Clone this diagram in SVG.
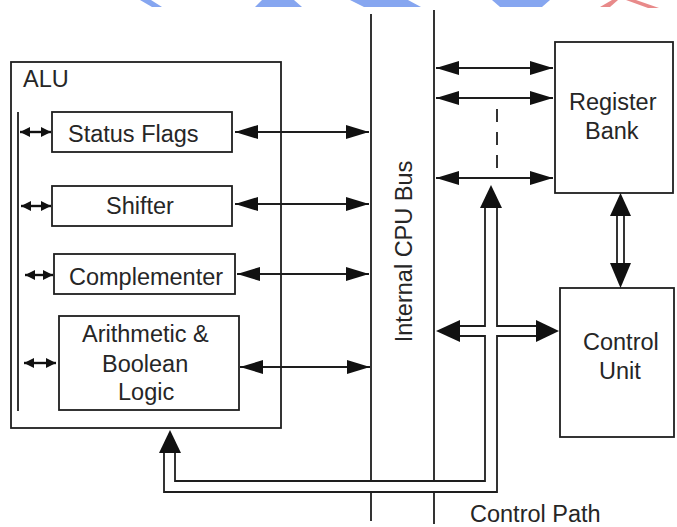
<svg xmlns="http://www.w3.org/2000/svg" width="677" height="527" viewBox="0 0 677 527">
  <style>
    .ln { fill: none; stroke: #1e1e1e; stroke-width: 1.8; }
    .sm { fill: none; stroke: #111111; stroke-width: 2.4; }
    .box { fill: #ffffff; stroke: #1e1e1e; stroke-width: 1.8; }
    .hd { fill: #111111; stroke: none; }
    .tx { font-family: "Liberation Sans", Arial, sans-serif; font-size: 23.5px; fill: #262626; }
  </style>
  <defs>
    <marker id="big" viewBox="0 0 23 14" refX="23" refY="7" markerWidth="23" markerHeight="14" markerUnits="userSpaceOnUse" orient="auto-start-reverse">
      <path d="M0,0 L23,7 L0,14 Z" fill="#111111"/>
    </marker>
    <marker id="small" viewBox="0 0 10 10" refX="10" refY="5" markerWidth="10" markerHeight="10" markerUnits="userSpaceOnUse" orient="auto-start-reverse">
      <path d="M0,0 L10,5 L0,10 Z" fill="#111111"/>
    </marker>
  </defs>

  <rect width="677" height="527" fill="#ffffff"/>

  <!-- faint coloured shapes along the top edge -->
  <g id="top-edge">
    <polygon points="140,0 151,0 162,7 152,7" fill="#86a6f0"/>
    <polygon points="262,0 294,0 302,7 255,7" fill="#86a6f0"/>
    <polygon points="350,0 408,0 421,7 364,7" fill="#86a6f0"/>
    <polygon points="492,0 550,0 542,7 500,7" fill="#86a6f0"/>
    <polygon points="600,7 612,0 618,0 610,7" fill="#e88a8a"/>
    <polygon points="626,0 636,0 659,8 648,8" fill="#e88a8a"/>
  </g>

  <!-- internal CPU bus rails -->
  <g id="bus">
    <path class="ln" d="M371,14 V481 M371,493 V521"/>
    <path class="ln" d="M434,10 V481 M434,493 V524"/>
    <text class="tx" transform="translate(412,251.5) rotate(-90)" text-anchor="middle">Internal CPU Bus</text>
  </g>

  <!-- ALU block with its units -->
  <g id="alu">
    <rect class="box" x="11" y="62" width="270" height="366"/>
    <text class="tx" x="23" y="87">ALU</text>
    <line class="ln" x1="18" y1="112" x2="18" y2="411"/>
  </g>
  <g id="status-flags">
    <rect class="box" x="52" y="112" width="180" height="40"/>
    <text class="tx" x="68" y="142">Status Flags</text>
  </g>
  <g id="shifter">
    <rect class="box" x="52" y="186" width="180" height="40"/>
    <text class="tx" x="106" y="214">Shifter</text>
  </g>
  <g id="complementer">
    <rect class="box" x="54" y="254" width="181" height="40"/>
    <text class="tx" x="69" y="285">Complementer</text>
  </g>
  <g id="arith-logic">
    <rect class="box" x="59" y="316" width="180" height="94"/>
    <text class="tx" x="82" y="342">Arithmetic &amp;</text>
    <text class="tx" x="102" y="372">Boolean</text>
    <text class="tx" x="118" y="400">Logic</text>
  </g>

  <!-- register bank and control unit -->
  <g id="register-bank">
    <rect class="box" x="555" y="42" width="118" height="151"/>
    <text class="tx" x="569" y="110">Register</text>
    <text class="tx" x="585" y="139">Bank</text>
  </g>
  <g id="control-unit">
    <rect class="box" x="560" y="288" width="114" height="149"/>
    <text class="tx" x="583" y="350">Control</text>
    <text class="tx" x="599" y="379">Unit</text>
  </g>

  <text class="tx" x="470" y="522">Control Path</text>

  <g id="connectors">
    <!-- short links inside the ALU -->
    <line class="sm" x1="20" y1="132" x2="51" y2="132" marker-start="url(#small)" marker-end="url(#small)"/>
    <line class="sm" x1="21" y1="206" x2="51" y2="206" marker-start="url(#small)" marker-end="url(#small)"/>
    <line class="sm" x1="25" y1="275" x2="53" y2="275" marker-start="url(#small)" marker-end="url(#small)"/>
    <line class="sm" x1="24" y1="363" x2="56" y2="363" marker-start="url(#small)" marker-end="url(#small)"/>

    <!-- ALU units to bus -->
    <line class="ln" x1="235" y1="132" x2="369" y2="132" marker-start="url(#big)" marker-end="url(#big)"/>
    <line class="ln" x1="235" y1="204" x2="369" y2="204" marker-start="url(#big)" marker-end="url(#big)"/>
    <line class="ln" x1="237" y1="274" x2="369" y2="274" marker-start="url(#big)" marker-end="url(#big)"/>
    <line class="ln" x1="240" y1="367" x2="370" y2="367" marker-start="url(#big)" marker-end="url(#big)"/>

    <!-- bus to register bank -->
    <line class="ln" x1="436" y1="68" x2="553" y2="68" marker-start="url(#big)" marker-end="url(#big)"/>
    <line class="ln" x1="436" y1="98" x2="553" y2="98" marker-start="url(#big)" marker-end="url(#big)"/>
    <line class="ln" x1="436" y1="178" x2="553" y2="178" marker-start="url(#big)" marker-end="url(#big)"/>
    <line class="ln" x1="497" y1="109" x2="497" y2="168" stroke-dasharray="13 10"/>

    <!-- register bank to control unit (double line) -->
    <path class="ln" d="M617,216 V263 M624,216 V263"/>
    <polygon class="hd" points="620.5,193 610,216 631,216"/>
    <polygon class="hd" points="620.5,288 610,263 631,263"/>

    <!-- control path (double line) -->
    <path class="ln" d="M175,453 V481 H485 V336 H460"/>
    <path class="ln" d="M164,453 V492 H497 V336 H536"/>
    <path class="ln" d="M460,326 H485 V208"/>
    <path class="ln" d="M536,326 H497 V208"/>
    <polygon class="hd" points="170,430 159,453 181,453"/>
    <polygon class="hd" points="491,185 480,208 502,208"/>
    <polygon class="hd" points="436,331 460,320 460,342"/>
    <polygon class="hd" points="559,331 536,320 536,342"/>
  </g>
</svg>
